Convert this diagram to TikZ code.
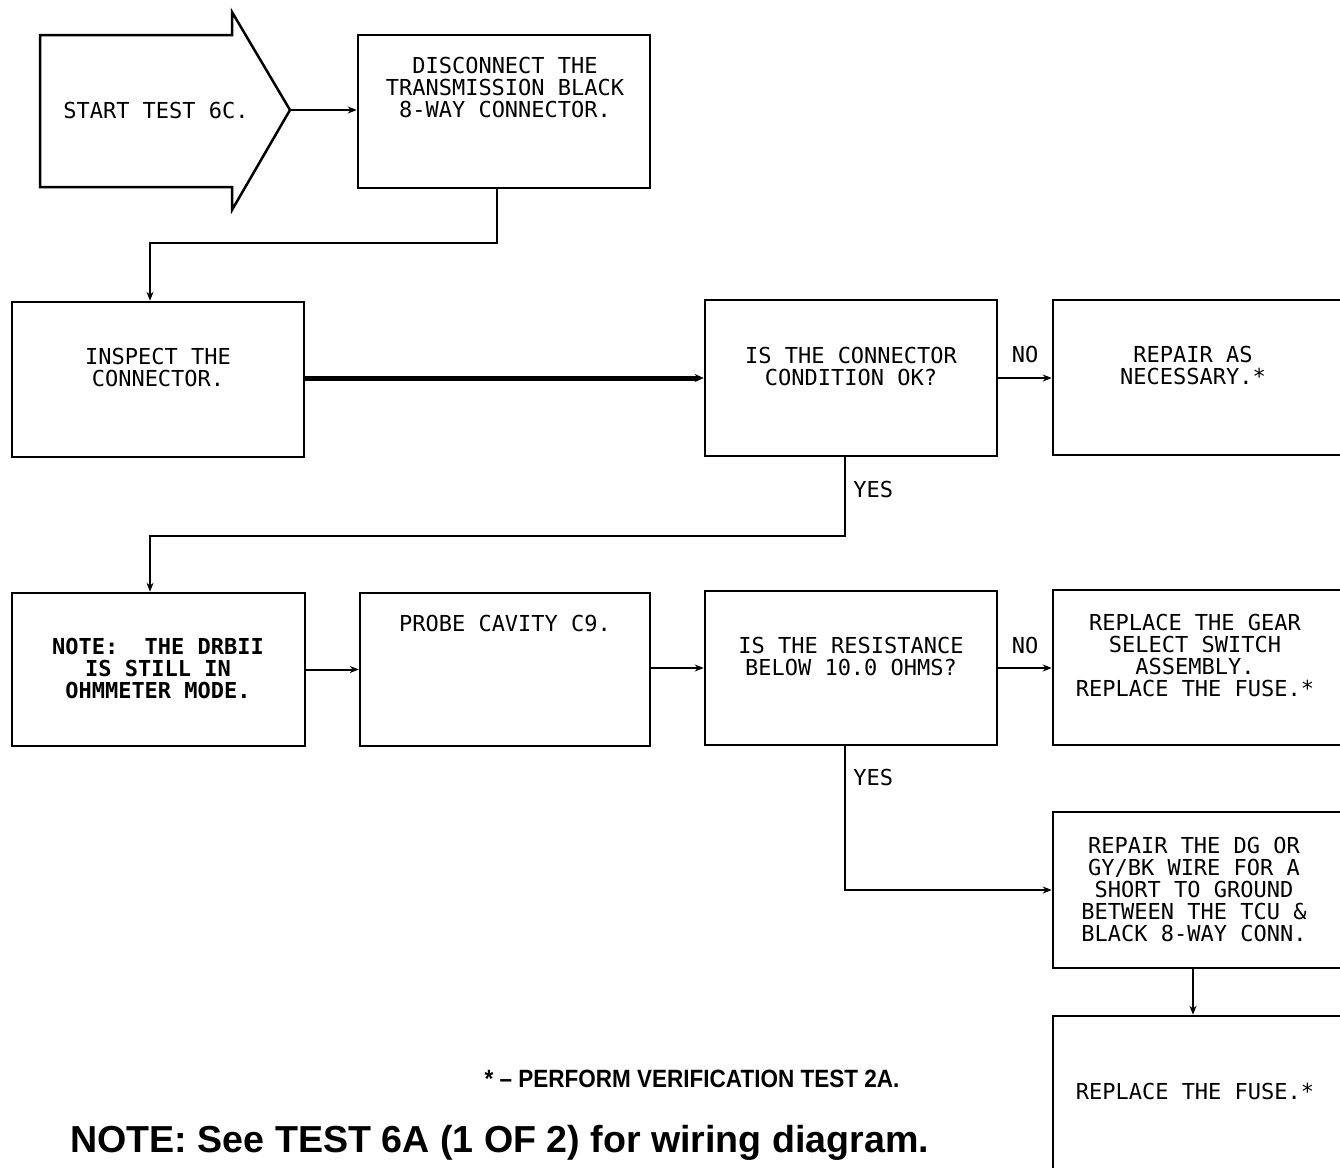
\documentclass[tikz,border=0pt]{standalone}
\usepackage{fontspec}
\usetikzlibrary{arrows.meta}
\newfontfamily\plotfont{DejaVu Sans Mono}
\newfontfamily\footfont{Liberation Sans}[FakeStretch=0.9]
\newfontfamily\notefont{Liberation Sans}
\begin{document}
\begin{tikzpicture}[x=0.5pt,y=-0.5pt,
  box/.style={draw, line width=1.25pt, inner sep=0pt},
  txt/.style={font=\plotfont\fontsize{11}{11}\selectfont, align=center, inner sep=0pt},
  lbl/.style={font=\plotfont\fontsize{11}{11}\selectfont, inner sep=0pt},
  conn/.style={line width=1pt, -{Stealth[length=4.5pt,width=3.5pt]}},
  thick conn/.style={line width=2.5pt, -{Stealth[length=4.5pt,width=4pt]}}]
\clip (0,0) rectangle (1340,1168);
\fill[white] (0,0) rectangle (1340,1168);
% start arrow
\draw[line width=1.25pt, line join=miter] (40,35) -- (232,35) -- (232,12) -- (290,110) -- (232,210) -- (232,187) -- (40,187) -- cycle;
\coordinate (starttip) at (290,110);
\node[txt] (starttxt) at (156,110) {START TEST 6C.};
% boxes
\node[box, minimum width=146pt, minimum height=76.5pt] (dis) at (504,111.5) {};
\node[box, minimum width=146pt, minimum height=77.5pt] (insp) at (158,379.5) {};
\node[box, minimum width=146pt, minimum height=78pt] (q1) at (851,378) {};
\node[box, minimum width=146.5pt, minimum height=77.5pt] (rep1) at (1199.5,377.5) {};
\node[box, minimum width=146.5pt, minimum height=76.5pt] (note) at (158.5,669.5) {};
\node[box, minimum width=145pt, minimum height=76.5pt] (probe) at (505,669.5) {};
\node[box, minimum width=146pt, minimum height=77pt] (q2) at (851,668) {};
\node[box, minimum width=146.5pt, minimum height=77.5pt] (rep2) at (1199.5,667.5) {};
\node[box, minimum width=146.5pt, minimum height=78pt] (rep3) at (1199.5,890) {};
\node[box, minimum width=146.5pt, minimum height=79.5pt] (fuse) at (1199.5,1095.5) {};
% texts
\node[txt] (distxt) at (505,87) {DISCONNECT THE\\TRANSMISSION BLACK\\8-WAY CONNECTOR.};
\node[txt] (insptxt) at (158,367) {INSPECT THE\\CONNECTOR.};
\node[txt] (q1txt) at (851,366) {IS THE CONNECTOR\\CONDITION OK?};
\node[txt] (rep1txt) at (1193,365) {REPAIR AS\\NECESSARY.*};
\node[txt, font=\plotfont\bfseries\fontsize{11}{11}\selectfont] (notetxt) at (158,668) {NOTE:\ \ THE DRBII\\IS STILL IN\\OHMMETER MODE.};
\node[txt] (probetxt) at (505,623) {PROBE CAVITY C9.};
\node[txt] (q2txt) at (851,656) {IS THE RESISTANCE\\BELOW 10.0 OHMS?};
\node[txt] (rep2txt) at (1195,655) {REPLACE THE GEAR\\SELECT SWITCH\\ASSEMBLY.\\REPLACE THE FUSE.*};
\node[txt] (rep3txt) at (1194,889.5) {REPAIR THE DG OR\\GY/BK WIRE FOR A\\SHORT TO GROUND\\BETWEEN THE TCU \&\\BLACK 8-WAY CONN.};
\node[txt] (fusetxt) at (1195,1091) {REPLACE THE FUSE.*};
% connectors
\draw[conn] (starttip) -- (starttip -| dis.west);
\draw[conn] ([xshift=-3.5pt]dis.south) -- ++(0,54) -| ([xshift=-4pt]insp.north);
\draw[thick conn] (q1.west -| insp.east) -- (q1.west);
\draw[conn] (q1.east) -- (q1.east -| rep1.west);
\node[lbl] (no1) at (1025,354) {NO};
\draw[conn] ([xshift=-3pt]q1.south) -- ++(0,79) -| ([xshift=-4.25pt]note.north);
\node[lbl, anchor=west] (yes1) at (853,489) {YES};
\draw[conn] (note.east) -- (note.east -| probe.west);
\draw[conn] (q2.west -| probe.east) -- (q2.west);
\draw[conn] (q2.east) -- (q2.east -| rep2.west);
\node[lbl] (no2) at (1025,645) {NO};
\draw[conn] ([xshift=-3pt]q2.south) |- (rep3.west);
\node[lbl, anchor=west] (yes2) at (853,777) {YES};
\draw[conn] ([xshift=-3.25pt]rep3.south) -- ([xshift=-3.25pt]fuse.north);
% footnotes
\node[inner sep=0pt, font=\footfont\bfseries\fontsize{12.5}{12.5}\selectfont] (foot) at (692,1079) {* – PERFORM VERIFICATION TEST 2A.};
\node[inner sep=0pt, anchor=west, font=\notefont\bfseries\fontsize{18.8}{18.8}\selectfont] (wiring) at (70,1143) {NOTE: See TEST 6A (1 OF 2) for wiring diagram.};
\end{tikzpicture}
\end{document}
